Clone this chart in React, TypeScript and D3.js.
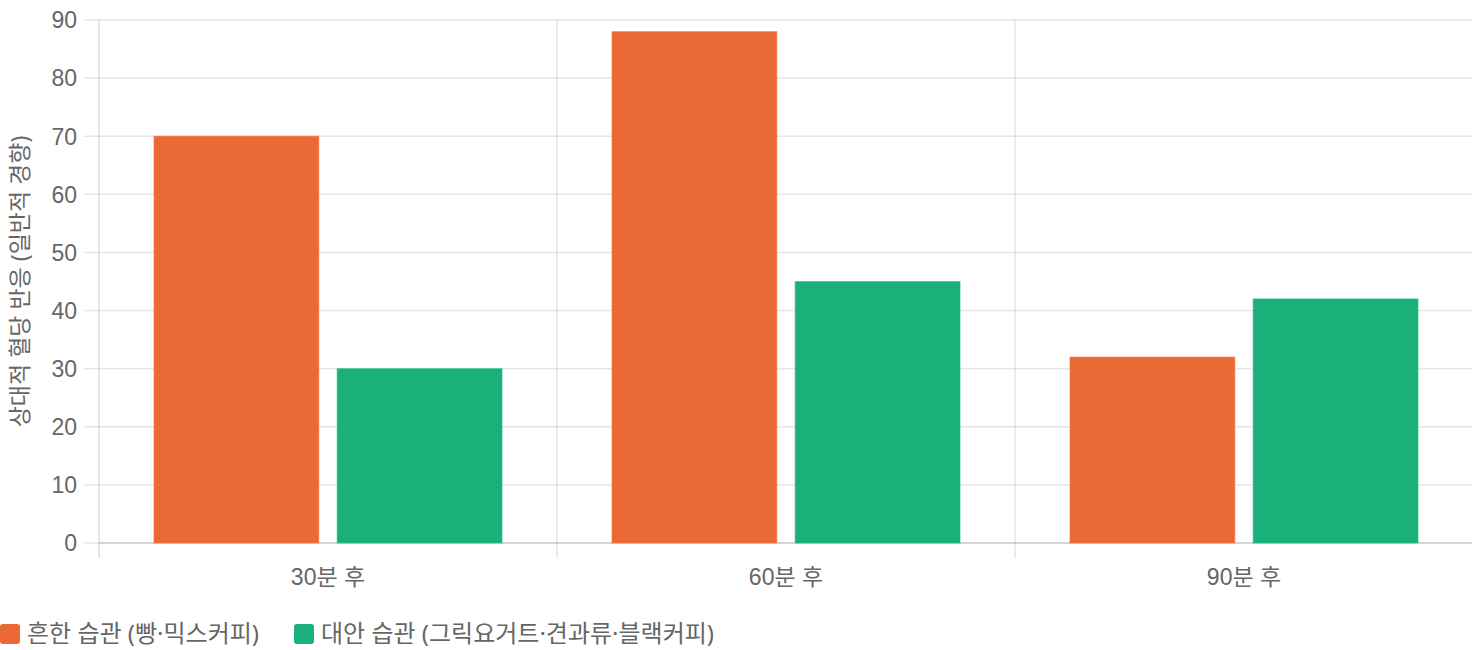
import { useMemo } from "react";
import * as d3 from "d3";

const categories = ["30분 후", "60분 후", "90분 후"];
const seriesNames = ["흔한 습관 (빵·믹스커피)", "대안 습관 (그릭요거트·견과류·블랙커피)"];
const commonValues = [70, 88, 32];
const altValues = [30, 45, 42];
const seriesColors = ["#EA6935", "#1BAF7A"];
const yTicks = [0, 10, 20, 30, 40, 50, 60, 70, 80, 90];
const yTitle = "상대적 혈당 반응 (일반적 경향)";

const W = 1472;
const H = 650;
const left = 99;
const right = 1473;
const top = 20;
const bottom = 543;

const gridColor = "rgba(0,0,0,0.1)";
const tickColor = "#666";
const latin = "'Liberation Sans', Arial, 'Noto Sans CJK KR', sans-serif";
const korean = "'Noto Sans', 'Noto Sans CJK KR', sans-serif";

export default function App() {
  const x = useMemo(() => d3.scaleBand().domain(categories).range([left, right]), []);
  // bars take 80% of a category, each bar 90% of its slot (Chart.js style)
  const inner = useMemo(
    () =>
      d3
        .scaleBand()
        .domain(seriesNames)
        .range([0, x.bandwidth() * 0.8])
        .paddingInner(0.1)
        .paddingOuter(0.05),
    [x],
  );
  const y = useMemo(() => d3.scaleLinear().domain([0, 90]).range([bottom, top]), []);

  const series = [commonValues, altValues];
  const edges = [...categories.map((c) => x(c) as number), right];

  return (
    <svg
      width={W}
      height={H}
      style={{ position: "absolute", left: 0, top: 0, background: "#fff" }}
    >
      {/* horizontal grid + y ticks */}
      {yTicks.map((t) => (
        <g key={t}>
          <line x1={left - 15} x2={W} y1={y(t)} y2={y(t)} stroke={gridColor} strokeWidth={1.5} />
          <text
            x={77}
            y={y(t)}
            dy="0.36em"
            textAnchor="end"
            fontFamily={latin}
            fontSize={23}
            fill={tickColor}
          >
            {t}
          </text>
        </g>
      ))}
      {/* vertical grid */}
      {edges.map((e, i) => (
        <line
          key={i}
          x1={e}
          x2={e}
          y1={top}
          y2={bottom + 15}
          stroke={i === 0 ? "rgba(0,0,0,0.13)" : gridColor}
          strokeWidth={1.5}
        />
      ))}
      <line x1={left} x2={W} y1={bottom} y2={bottom} stroke="rgba(0,0,0,0.13)" strokeWidth={1.5} />

      {/* bars */}
      {series.map((vals, si) =>
        vals.map((v, ci) => {
          const bx = (x(categories[ci]) as number) + x.bandwidth() * 0.1 + (inner(seriesNames[si]) as number);
          return (
            <rect
              key={`${si}-${ci}`}
              x={bx}
              y={y(v)}
              width={inner.bandwidth()}
              height={y(0) - y(v)}
              fill={seriesColors[si]}
              stroke={d3.color(seriesColors[si])!.brighter(0.3).toString()}
              strokeOpacity={0.6}
              strokeWidth={1}
            />
          );
        }),
      )}

      {/* x labels */}
      {categories.map((c) => (
        <text
          key={c}
          x={(x(c) as number) + x.bandwidth() / 2}
          y={577}
          dy="0.36em"
          textAnchor="middle"
          fontFamily={latin}
          fontSize={23}
          fill={tickColor}
        >
          {c}
        </text>
      ))}

      {/* y title */}
      <text
        transform={`translate(20,${(top + bottom) / 2}) rotate(-90)`}
        dy="0.36em"
        textAnchor="middle"
        fontFamily={korean}
        fontSize={23}
        fill={tickColor}
      >
        {yTitle}
      </text>

      {/* legend */}
      {seriesNames.map((n, i) => {
        const lx = i === 0 ? 0 : 294;
        return (
          <g key={n} transform={`translate(${lx},634)`}>
            <rect x={0} y={-10} width={20} height={20} rx={3} fill={seriesColors[i]} />
            <text x={27} dy="0.34em" fontFamily={korean} fontSize={24} fill={tickColor}>
              {n}
            </text>
          </g>
        );
      })}
    </svg>
  );
}
